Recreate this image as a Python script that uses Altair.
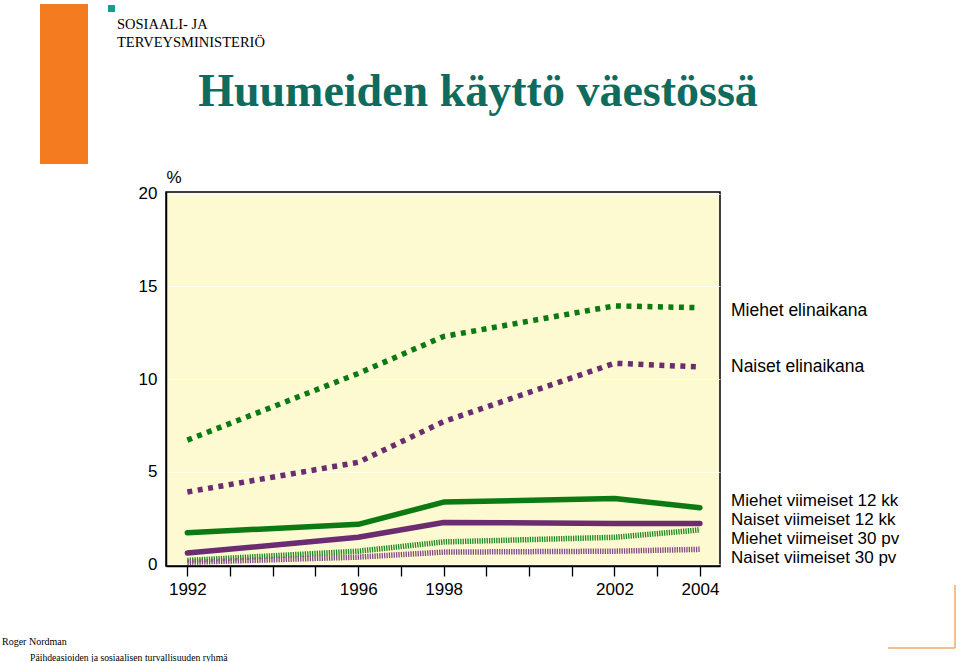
import altair as alt
import pandas as pd

# ---- data -------------------------------------------------------------
years = [1992, 1996, 1998, 2002, 2004]
series_names = [
    "Miehet elinaikana",
    "Naiset elinaikana",
    "Miehet viimeiset 12 kk",
    "Naiset viimeiset 12 kk",
    "Miehet viimeiset 30 pv",
    "Naiset viimeiset 30 pv",
]
miehet_elinaikana = [6.7, 10.3, 12.3, 13.95, 13.85]
naiset_elinaikana = [3.9, 5.5, 7.7, 10.85, 10.65]
miehet_12kk = [1.7, 2.15, 3.35, 3.55, 3.05]
naiset_12kk = [0.6, 1.45, 2.25, 2.2, 2.2]
miehet_30pv = [0.2, 0.7, 1.2, 1.45, 1.85]
naiset_30pv = [0.1, 0.38, 0.65, 0.7, 0.8]
series_values = [miehet_elinaikana, naiset_elinaikana, miehet_12kk,
                 naiset_12kk, miehet_30pv, naiset_30pv]

tick_years = list(range(1992, 2005))
label_years = [1992, 1996, 1998, 2002, 2004]
y_ticks = [0, 5, 10, 15, 20]

# ---- layout / style ---------------------------------------------------
PL, PT, W, H = 166, 192, 554, 374
GREEN = "#0b7a12"
PURPLE = "#6b2d70"
SANS = "Liberation Sans"
SERIF = "Liberation Serif"

styles = {
    "Miehet elinaikana": dict(color=GREEN, strokeWidth=5.5, strokeDash=[5, 5.5], strokeCap="butt"),
    "Naiset elinaikana": dict(color=PURPLE, strokeWidth=5.5, strokeDash=[5, 5.5], strokeCap="butt"),
    "Miehet viimeiset 12 kk": dict(color=GREEN, strokeWidth=5.5, strokeCap="round"),
    "Naiset viimeiset 12 kk": dict(color=PURPLE, strokeWidth=5.5, strokeCap="round"),
    "Miehet viimeiset 30 pv": dict(color="#1c8a22", strokeWidth=5.5, strokeDash=[1.3, 1.1], strokeCap="butt"),
    "Naiset viimeiset 30 pv": dict(color="#804a86", strokeWidth=5.5, strokeDash=[1.3, 1.1], strokeCap="butt"),
}
draw_order = [4, 5, 3, 2, 1, 0]

x_enc = alt.X(
    "year:Q",
    scale=alt.Scale(domain=[1991.5, 2004.47], nice=False, zero=False),
    axis=alt.Axis(
        values=tick_years,
        format="d",
        labelExpr="indexof(%s, datum.value) >= 0 ? datum.label : ''" % str(label_years),
        labelOverlap=False,
        labelFlush=False,
        tickSize=10,
        tickWidth=1.3,
        tickColor="black",
        domainColor="black",
        domainWidth=1.5,
        grid=False,
        labelFont=SANS,
        labelFontSize=17,
        labelColor="black",
        labelPadding=5,
        title=None,
    ),
)
y_enc = alt.Y(
    "value:Q",
    scale=alt.Scale(domain=[-0.1, 20.1], nice=False, zero=False),
    axis=alt.Axis(
        values=y_ticks,
        ticks=False,
        domainColor="black",
        domainWidth=1.5,
        grid=True,
        gridColor="white",
        gridOpacity=0.7,
        gridWidth=1,
        labelFont=SANS,
        labelFontSize=17,
        labelColor="black",
        labelPadding=9,
        title="%",
        titleAngle=0,
        titleX=0,
        titleY=-10,
        titleAlign="left",
        titleBaseline="alphabetic",
        titleFont=SANS,
        titleFontSize=17,
        titleFontWeight="normal",
        titleColor="black",
    ),
)

layers = []
for i in draw_order:
    name = series_names[i]
    df = pd.DataFrame({"year": years, "value": series_values[i], "series": name})
    st = styles[name]
    layers.append(
        alt.Chart(df).mark_line(strokeJoin="round", **st).encode(x=x_enc, y=y_enc)
    )


def txt(text, x, y, size=16, font=SANS, color="black", weight="normal", align="left"):
    return alt.Chart(alt.Data(values=[{}])).mark_text(
        text=text, font=font, fontSize=size, color=color, fontWeight=weight,
        align=align, baseline="alphabetic",
    ).encode(x=alt.value(x - PL), y=alt.value(y - PT))


def box(x1, y1, x2, y2, color):
    return alt.Chart(alt.Data(values=[{}])).mark_rect(color=color).encode(
        x=alt.value(x1 - PL), x2=alt.value(x2 - PL),
        y=alt.value(y1 - PT), y2=alt.value(y2 - PT))


def rule(x1, y1, x2, y2, color, w=1.5):
    return alt.Chart(alt.Data(values=[{}])).mark_rule(color=color, strokeWidth=w).encode(
        x=alt.value(x1 - PL), x2=alt.value(x2 - PL),
        y=alt.value(y1 - PT), y2=alt.value(y2 - PT))


# series labels at the right
label_baselines = [316, 372, 506, 525, 544, 563]
label_sizes = [17.5, 17.5, 17, 17, 17, 17]
for name, yb, sz in zip(series_names, label_baselines, label_sizes):
    layers.append(txt(name, 731, yb, size=sz))

# header, logo, footer
layers += [
    box(40, 4, 88, 164, "#f47b20"),
    box(108, 5, 115, 12, "#1a9b8c"),
    txt("SOSIAALI- JA", 117, 29, size=14.5, font=SERIF),
    txt("TERVEYSMINISTERIÖ", 117, 47, size=14.5, font=SERIF),
    txt("Huumeiden käyttö väestössä", 478, 106, size=46, font=SERIF,
        color="#0e6b5e", weight="bold", align="center"),
    txt("Roger Nordman", 2, 645, size=10, font=SERIF),
    txt("Päihdeasioiden ja sosiaalisen turvallisuuden ryhmä", 30, 661, size=9.7, font=SERIF),
    rule(955, 585, 955, 648, "#f0a868"),
    rule(888, 648, 955, 648, "#f0a868"),
]

chart = alt.layer(*layers).properties(
    width=W,
    height=H,
    padding={"left": PL, "top": PT, "right": 960 - PL - W, "bottom": 662 - PT - H},
    autosize=alt.AutoSizeParams(type="none"),
    background="white",
).configure_view(
    fill="#fdfad2",
    stroke="black",
    strokeWidth=1.5,
)

chart.save("out.html", embed_options={"renderer": "svg", "actions": False})
